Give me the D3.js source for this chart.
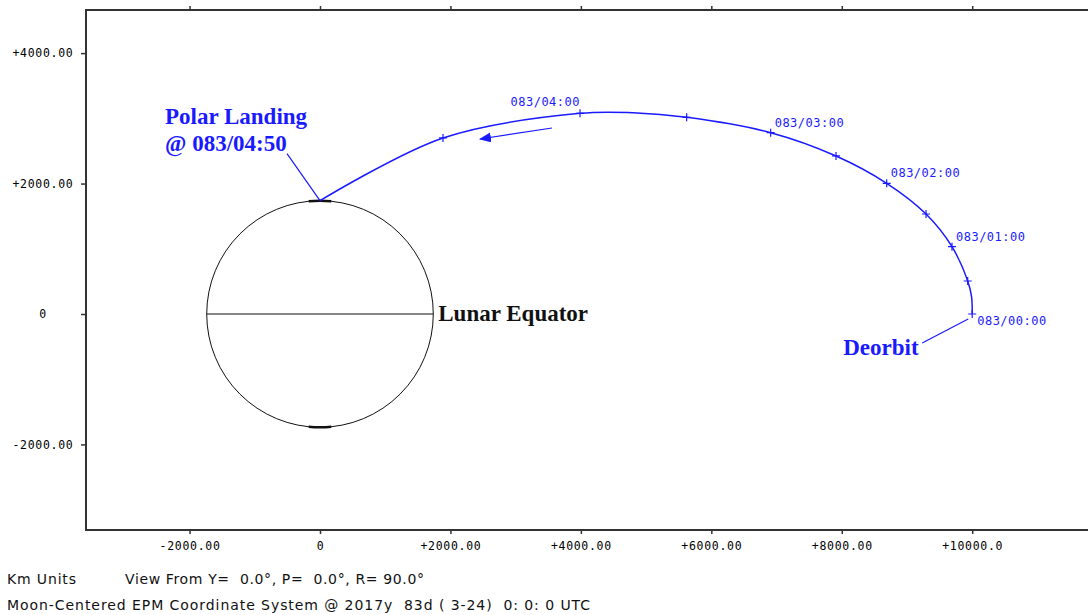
<!DOCTYPE html>
<html>
<head>
<meta charset="utf-8">
<script src="https://cdn.jsdelivr.net/npm/d3@7"></script>
<style>
  body { margin: 0; background: #fff; }
  svg { display: block; }
  .mono { font-family: "DejaVu Sans Mono", monospace; }
  .note { font-family: "Liberation Serif", "Times New Roman", serif; font-weight: bold; font-size: 23px; }
  .foot { font-family: "DejaVu Sans", sans-serif; font-size: 14px; white-space: pre; fill: #111; }
</style>
</head>
<body>
<svg id="chart"></svg>
<script>
const width = 1088;
const height = 615;

// axis ticks (km)
const xTicks = [-2000, 0, 2000, 4000, 6000, 8000, 10000];
const yTicks = [-2000, 0, 2000, 4000];

// moon
const moonRadius = 1737;

// trajectory marks every 30 min (km)
const markTimes = ['083/00:00', '083/00:30', '083/01:00', '083/01:30', '083/02:00',
                   '083/02:30', '083/03:00', '083/03:30', '083/04:00', '083/04:30'];
const markX = [10000, 9931, 9690, 9292, 8689, 7912, 6910, 5622, 3987, 1886];
const markY = [0, 506, 1032, 1533, 2004, 2423, 2780, 3016, 3077, 2699];
const labeledTimes = ['083/00:00', '083/01:00', '083/02:00', '083/03:00', '083/04:00'];

// trajectory path (km), marks plus a few extra points along the curve
const pathX = [10000, 9990, 9931, 9690, 9292, 8689, 7912, 6910, 5622, 4800, 3987, 1886, 0];
const pathY = [0, 265, 506, 1032, 1533, 2004, 2423, 2780, 3016, 3085, 3077, 2699, 1737];

// direction arrow (km)
const arrowX = [3557, 2453];
const arrowY = [2852, 2683];

const footLines = ['Km Units', 'View From Y=  0.0\u00b0, P=  0.0\u00b0, R= 90.0\u00b0',
                   'Moon-Centered EPM Coordinate System @ 2017y  83d ( 3-24)  0: 0: 0 UTC'];

const blue = '#1a1aff';
const frame = {left: 86, top: 10, right: 1100, bottom: 530};
const kmPx = 0.06522;

const svg = d3.select('#chart').attr('width', width).attr('height', height);

const x = d3.scaleLinear()
  .domain([-(320 - frame.left) / kmPx, (frame.right - 320) / kmPx])
  .range([frame.left, frame.right]);
const y = d3.scaleLinear()
  .domain([-(frame.bottom - 314) / kmPx, (314 - frame.top) / kmPx])
  .range([frame.bottom, frame.top]);

function fmt(v) {
  if (v === 0) return '0';
  let s = (v > 0 ? '+' : '') + v.toFixed(2);
  return s.slice(0, 8);
}

// axes
const xAxis = svg.append('g').attr('transform', `translate(0, ${frame.bottom})`)
  .call(d3.axisBottom(x).tickValues(xTicks).tickFormat(fmt).tickSize(4).tickSizeOuter(0).tickPadding(8));
const xTop = svg.append('g').attr('transform', `translate(0, ${frame.top})`)
  .call(d3.axisTop(x).tickValues(xTicks).tickFormat('').tickSize(4).tickSizeOuter(0));
const yAxis = svg.append('g').attr('transform', `translate(${frame.left}, 0)`)
  .call(d3.axisLeft(y).tickValues(yTicks).tickFormat(fmt).tickSize(5).tickSizeOuter(0));

[xAxis, xTop, yAxis].forEach(a => {
  a.select('.domain').remove();
  a.selectAll('line').attr('stroke', '#333').attr('stroke-width', 1.5);
  a.selectAll('text').attr('class', 'mono').attr('fill', '#000')
    .style('font-size', '11.5px').style('letter-spacing', '0.7px');
});
yAxis.selectAll('text').attr('text-anchor', 'middle').attr('x', -43);

// frame
svg.append('path')
  .attr('d', `M${frame.right},${frame.top}H${frame.left}V${frame.bottom}H${frame.right}`)
  .attr('fill', 'none').attr('stroke', '#333').attr('stroke-width', 2);

// moon
const cx = x(0), cy = y(0);
const rPx = x(moonRadius) - x(0);
svg.append('circle').attr('cx', cx).attr('cy', cy).attr('r', rPx)
  .attr('fill', 'none').attr('stroke', '#111').attr('stroke-width', 1);
svg.append('line')
  .attr('x1', x(-moonRadius)).attr('x2', x(moonRadius))
  .attr('y1', cy).attr('y2', cy)
  .attr('stroke', '#111').attr('stroke-width', 1);
const pole = d3.arc().innerRadius(rPx - 1.2).outerRadius(rPx + 1.2);
[[-0.1, 0.1], [Math.PI - 0.1, Math.PI + 0.1]].forEach(([a0, a1]) => {
  svg.append('path').attr('transform', `translate(${cx},${cy})`)
    .attr('d', pole({startAngle: a0, endAngle: a1})).attr('fill', '#111');
});
svg.append('text').attr('class', 'note').attr('fill', '#111')
  .attr('x', x(moonRadius) + 5).attr('y', cy + 7).text('Lunar Equator');

// trajectory
const pts = pathX.map((v, i) => [v, pathY[i]]);
svg.append('path').datum(pts)
  .attr('fill', 'none').attr('stroke', blue).attr('stroke-width', 1.5)
  .attr('d', d3.line().x(d => x(d[0])).y(d => y(d[1])).curve(d3.curveCatmullRom.alpha(0.5)));

const marks = markTimes.map((t, i) => ({t, x: x(markX[i]), y: y(markY[i])}));
svg.selectAll('.mark').data(marks).enter().append('path')
  .attr('class', 'mark')
  .attr('d', d => `M${d.x - 4},${d.y}H${d.x + 4}M${d.x},${d.y - 4}V${d.y + 4}`)
  .attr('stroke', blue).attr('stroke-width', 1.2);

const labelPlace = {'083/00:00': [5, 11, 'start'], '083/04:00': [0, -7, 'end']};
svg.selectAll('.tlabel').data(marks.filter(d => labeledTimes.includes(d.t))).enter().append('text')
  .attr('class', 'mono tlabel')
  .attr('x', d => d.x + (labelPlace[d.t] || [4, -6])[0])
  .attr('y', d => d.y + (labelPlace[d.t] || [4, -6])[1])
  .attr('text-anchor', d => (labelPlace[d.t] || [4, -6, 'start'])[2])
  .attr('fill', blue).style('font-size', '12px').style('letter-spacing', '0.5px')
  .text(d => d.t);

// arrow
svg.append('defs').append('marker')
  .attr('id', 'head').attr('viewBox', '0 0 12 10').attr('refX', 11).attr('refY', 5)
  .attr('markerWidth', 12).attr('markerHeight', 10).attr('markerUnits', 'userSpaceOnUse')
  .attr('orient', 'auto')
  .append('path').attr('d', 'M0,0L12,5L0,10Z').attr('fill', blue);
svg.append('line')
  .attr('x1', x(arrowX[0])).attr('y1', y(arrowY[0]))
  .attr('x2', x(arrowX[1])).attr('y2', y(arrowY[1]))
  .attr('stroke', blue).attr('stroke-width', 1.2).attr('marker-end', 'url(#head)');

// annotations
const land = {x: x(pathX[pathX.length - 1]), y: y(pathY[pathY.length - 1])};
svg.append('line').attr('x1', land.x).attr('y1', land.y)
  .attr('x2', land.x - 33).attr('y2', land.y - 47).attr('stroke', blue).attr('stroke-width', 1.2);
const landText = svg.append('text').attr('class', 'note').attr('fill', blue);
landText.append('tspan').attr('x', land.x - 155).attr('y', land.y - 77).text('Polar Landing');
landText.append('tspan').attr('x', land.x - 155).attr('y', land.y - 50).text('@ 083/04:50');

const deo = {x: x(pathX[0]), y: y(pathY[0])};
svg.append('line').attr('x1', deo.x - 4).attr('y1', deo.y + 5)
  .attr('x2', deo.x - 50).attr('y2', deo.y + 29).attr('stroke', blue).attr('stroke-width', 1.2);
svg.append('text').attr('class', 'note').attr('fill', blue)
  .attr('x', deo.x - 129).attr('y', deo.y + 41).text('Deorbit');

// footer
svg.append('text').attr('class', 'foot').attr('x', 7).attr('y', 584)
  .attr('textLength', 69).attr('lengthAdjust', 'spacing').text(footLines[0]);
svg.append('text').attr('class', 'foot').attr('x', 125).attr('y', 584)
  .attr('textLength', 299).attr('lengthAdjust', 'spacing').text(footLines[1]);
svg.append('text').attr('class', 'foot').attr('x', 7).attr('y', 610)
  .attr('textLength', 583).attr('lengthAdjust', 'spacing').text(footLines[2]);
</script>
</body>
</html>
